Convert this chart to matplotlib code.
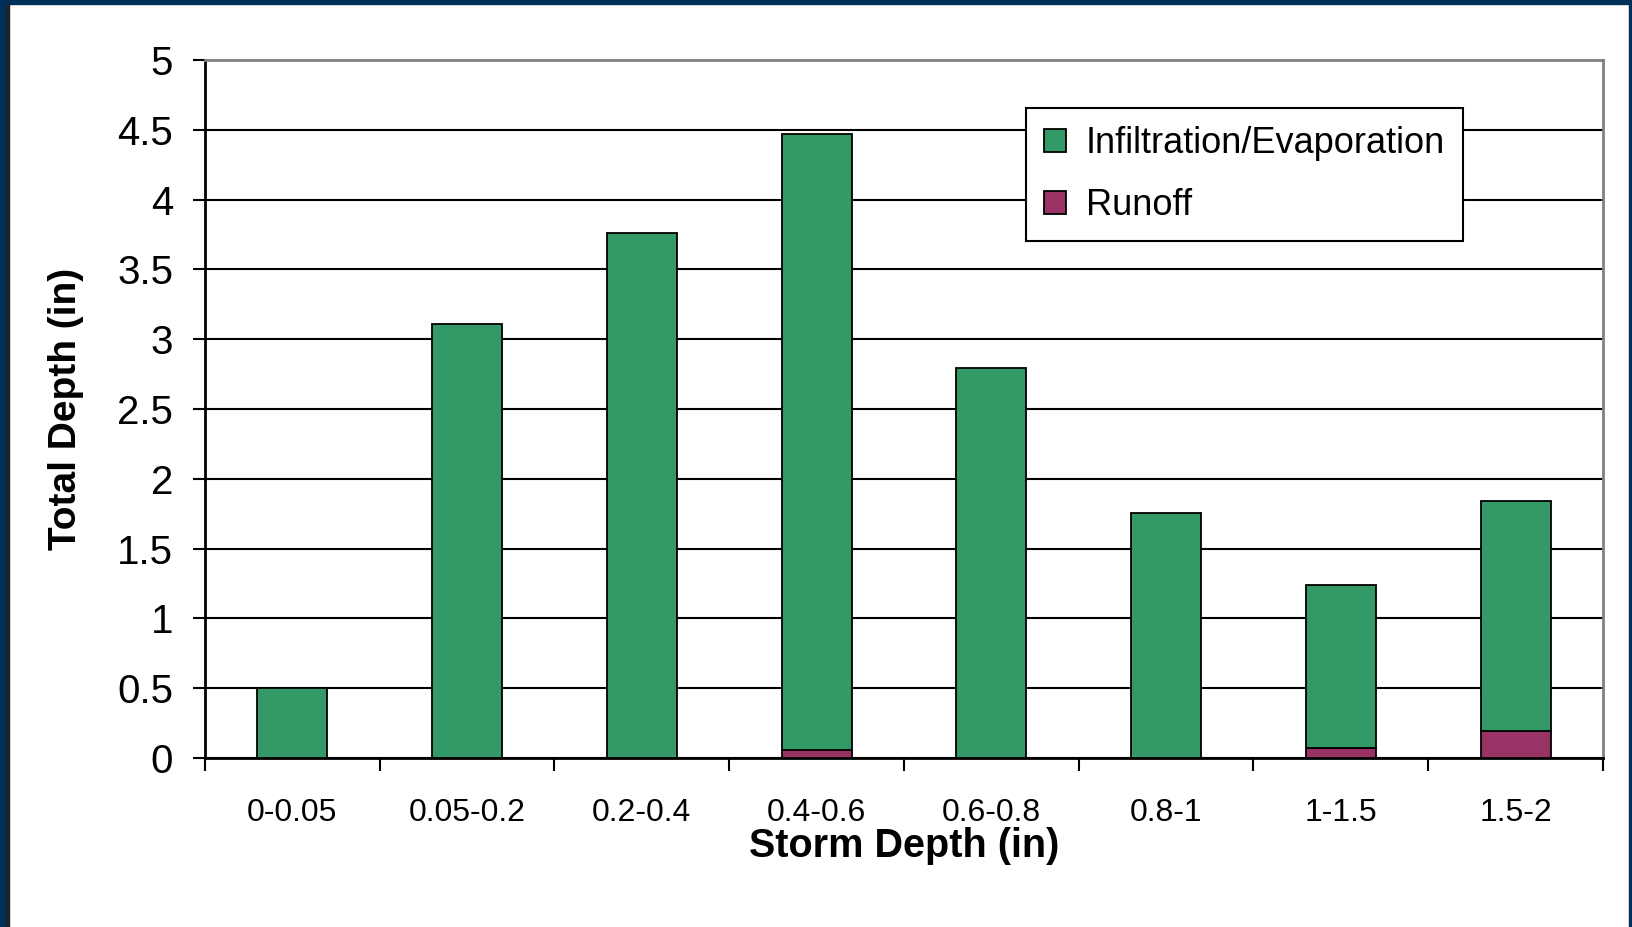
import matplotlib
matplotlib.use("Agg")
import matplotlib.pyplot as plt
import numpy as np
from matplotlib.patches import Rectangle

# storm depth bins and the depth totals per bin
storm_bins = ["0-0.05", "0.05-0.2", "0.2-0.4", "0.4-0.6", "0.6-0.8", "0.8-1", "1-1.5", "1.5-2"]
runoff = [0.0, 0.0, 0.003, 0.057, 0.003, 0.003, 0.07, 0.193]
infiltration = [0.50, 3.11, 3.76, 4.41, 2.79, 1.75, 1.17, 1.65]

plt.rcParams["font.family"] = ["Liberation Sans", "DejaVu Sans"]

green = "#339966"
purple = "#993366"

fig = plt.figure(figsize=(16.33, 9.27), dpi=100)
fig.patch.set_facecolor("white")

# dark blue slide frame
navy = "#003057"
fig.add_artist(Rectangle((0, 0), 7 / 1633, 1, transform=fig.transFigure, color=navy, zorder=0))
fig.add_artist(Rectangle((0, 1 - 4 / 927), 1, 4 / 927, transform=fig.transFigure, color=navy, zorder=0))
fig.add_artist(Rectangle((1 - 4 / 1633, 0), 4 / 1633, 1, transform=fig.transFigure, color=navy, zorder=0))
fig.add_artist(Rectangle((7 / 1633, 0), 2 / 1633, 1 - 4 / 927, transform=fig.transFigure, color="#222222", zorder=0))

ax = fig.add_axes([205 / 1633, 1 - 758 / 927, (1603 - 205) / 1633, (758 - 60) / 927])

x = np.arange(len(storm_bins))
w = 0.4
ax.bar(x, runoff, w, color=purple, edgecolor="black", linewidth=1.3, label="Runoff", zorder=3)
ax.bar(x, infiltration, w, bottom=runoff, color=green, edgecolor="black", linewidth=1.3,
       label="Infiltration/Evaporation", zorder=3)

ax.set_xlim(-0.5, len(storm_bins) - 0.5)
ax.set_ylim(0, 5)
ax.set_yticks(np.arange(0, 5.01, 0.5))
ax.set_yticklabels(["0", "0.5", "1", "1.5", "2", "2.5", "3", "3.5", "4", "4.5", "5"])
ax.yaxis.grid(True, color="black", linewidth=1.5)
ax.set_axisbelow(True)

# ticks at bin boundaries, labels at bin centres
ax.set_xticks(np.arange(-0.5, len(storm_bins), 1.0))
ax.set_xticklabels([])
ax.set_xticks(x, minor=True)
ax.set_xticklabels(storm_bins, minor=True, fontsize=23)
ax.tick_params(axis="x", which="minor", length=0, pad=29)
ax.tick_params(axis="x", which="major", length=9, width=1.5, direction="out")
ax.tick_params(axis="y", length=9, width=1.5, labelsize=29, pad=14)

for side in ["left", "bottom"]:
    ax.spines[side].set_color("black")
    ax.spines[side].set_linewidth(2)
for side in ["top", "right"]:
    ax.spines[side].set_color("#808080")
    ax.spines[side].set_linewidth(2)

ax.set_xlabel("Storm Depth (in)", fontsize=28.5, fontweight="bold", labelpad=-1)
ax.set_ylabel("Total Depth (in)", fontsize=28, fontweight="bold", labelpad=24)

handles, labels = ax.get_legend_handles_labels()
leg = ax.legend(handles[::-1], labels[::-1], loc="upper left",
                bbox_to_anchor=((1026 - 205) / 1398, 1 - (108 - 60) / 698),
                fontsize=26, frameon=True, fancybox=False, edgecolor="black",
                framealpha=1, handlelength=0.6, handleheight=0.6, handletextpad=0.55,
                labelspacing=0.75, borderpad=0.5, borderaxespad=0)
leg.get_frame().set_linewidth(1.5)

fig.savefig("out.png", dpi=100, facecolor="white")
